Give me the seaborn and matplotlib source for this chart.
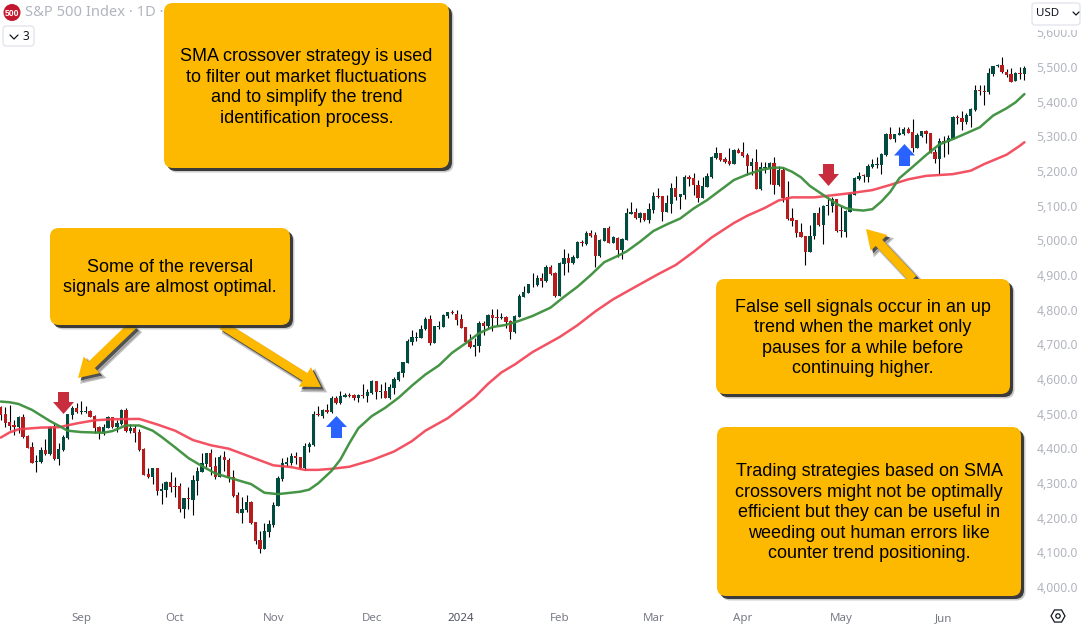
"""
S&P 500 daily candles with two SMA lines and callout boxes on top.
"""
import numpy as np
import pandas as pd
import matplotlib
matplotlib.use("Agg")
import matplotlib.pyplot as plt
import seaborn as sns
from matplotlib.patches import Circle, FancyBboxPatch, Polygon, Rectangle, RegularPolygon

# candle values
opens = [
    4520, 4499, 4477, 4467, 4461, 4490, 4436, 4404, 4362, 4361,
    4395, 4384, 4461, 4369, 4395, 4430, 4496, 4516, 4505, 4506,
    4509, 4494, 4462, 4446, 4460, 4490, 4461, 4470, 4511, 4451,
    4459, 4447, 4398, 4326, 4317, 4343, 4278, 4280, 4303, 4291,
    4291, 4225, 4256, 4251, 4306, 4332, 4355, 4387, 4349, 4318,
    4375, 4367, 4316, 4266, 4214, 4221, 4245, 4188, 4136, 4110,
    4160, 4179, 4235, 4313, 4356, 4358, 4378, 4375, 4342, 4405,
    4410, 4499, 4493, 4511, 4505, 4545, 4532, 4549, 4554, 4553,
    4545, 4554, 4552, 4560, 4594, 4564, 4565, 4544, 4575, 4598,
    4618, 4647, 4708, 4719, 4719, 4743, 4773, 4705, 4751, 4750,
    4783, 4793, 4789, 4773, 4750, 4710, 4692, 4695, 4762, 4752,
    4785, 4779, 4777, 4779, 4766, 4736, 4780, 4838, 4849, 4873,
    4871, 4891, 4883, 4923, 4907, 4840, 4933, 4949, 4934, 4950,
    4995, 4990, 5020, 5015, 4954, 4999, 5036, 4993, 5007, 4972,
    5002, 5077, 5081, 5064, 5078, 5059, 5089, 5127, 5128, 5082,
    5106, 5150, 5126, 5131, 5183, 5179, 5161, 5122, 5155, 5183,
    5238, 5252, 5235, 5228, 5220, 5260, 5255, 5246, 5214, 5225,
    5147, 5210, 5208, 5223, 5160, 5204, 5125, 5064, 5059, 5024,
    5012, 4966, 5012, 5079, 5044, 5100, 5100, 5118, 5030, 5025,
    5083, 5132, 5177, 5188, 5183, 5211, 5217, 5218, 5246, 5307,
    5291, 5304, 5306, 5321, 5312, 5266, 5301, 5315, 5309, 5255,
    5235, 5287, 5284, 5293, 5356, 5353, 5341, 5359, 5375, 5434,
    5431, 5429, 5480, 5502, 5506, 5486, 5480, 5461, 5483, 5480,
]
closes = [
    4496, 4472, 4465, 4462, 4490, 4432, 4402, 4359, 4364, 4395,
    4383, 4461, 4368, 4398, 4434, 4499, 4517, 4504, 4508, 4508,
    4490, 4460, 4447, 4462, 4491, 4461, 4474, 4512, 4449, 4459,
    4445, 4395, 4323, 4317, 4343, 4277, 4283, 4303, 4289, 4289,
    4225, 4257, 4254, 4309, 4335, 4358, 4387, 4347, 4317, 4376,
    4367, 4315, 4264, 4215, 4225, 4245, 4184, 4133, 4110, 4162,
    4182, 4237, 4314, 4357, 4361, 4378, 4373, 4342, 4407, 4413,
    4499, 4495, 4512, 4505, 4545, 4532, 4551, 4553, 4552, 4546,
    4553, 4552, 4563, 4594, 4563, 4566, 4546, 4577, 4600, 4620,
    4649, 4710, 4721, 4722, 4744, 4774, 4703, 4752, 4753, 4785,
    4792, 4790, 4770, 4748, 4707, 4692, 4698, 4762, 4753, 4785,
    4777, 4777, 4779, 4765, 4737, 4782, 4840, 4851, 4874, 4875,
    4892, 4883, 4924, 4903, 4840, 4936, 4949, 4935, 4952, 4995,
    4993, 5021, 5014, 4956, 5001, 5036, 4993, 5009, 4972, 5004,
    5079, 5082, 5065, 5079, 5060, 5090, 5128, 5124, 5083, 5107,
    5150, 5124, 5133, 5183, 5178, 5160, 5123, 5157, 5186, 5240,
    5253, 5232, 5226, 5221, 5261, 5252, 5244, 5214, 5227, 5149,
    5212, 5212, 5223, 5160, 5203, 5123, 5062, 5056, 5022, 5009,
    4966, 5014, 5079, 5043, 5100, 5102, 5118, 5026, 5027, 5086,
    5134, 5180, 5187, 5186, 5214, 5220, 5219, 5249, 5307, 5293,
    5307, 5310, 5322, 5311, 5266, 5304, 5315, 5308, 5251, 5235,
    5287, 5285, 5296, 5356, 5354, 5341, 5361, 5378, 5434, 5432,
    5429, 5483, 5503, 5505, 5486, 5477, 5458, 5483, 5481, 5497,
]
highs = [
    4523, 4520, 4525, 4482, 4493, 4499, 4439, 4419, 4381, 4405,
    4426, 4465, 4472, 4415, 4439, 4499, 4522, 4530, 4537, 4522,
    4511, 4496, 4465, 4470, 4493, 4491, 4482, 4514, 4516, 4469,
    4467, 4455, 4400, 4342, 4343, 4343, 4299, 4306, 4332, 4318,
    4299, 4257, 4290, 4323, 4347, 4386, 4388, 4397, 4376, 4381,
    4392, 4371, 4338, 4273, 4261, 4265, 4247, 4188, 4163, 4184,
    4193, 4244, 4320, 4372, 4374, 4386, 4390, 4376, 4416, 4418,
    4508, 4522, 4513, 4528, 4552, 4551, 4565, 4559, 4559, 4556,
    4557, 4586, 4570, 4597, 4594, 4586, 4590, 4586, 4605, 4623,
    4650, 4716, 4741, 4737, 4756, 4778, 4785, 4753, 4766, 4787,
    4794, 4799, 4799, 4788, 4751, 4730, 4717, 4768, 4768, 4788,
    4802, 4802, 4790, 4782, 4770, 4785, 4845, 4868, 4874, 4907,
    4900, 4905, 4929, 4929, 4909, 4939, 4975, 4963, 4958, 4998,
    5001, 5027, 5030, 5025, 5003, 5037, 5041, 5012, 5009, 5006,
    5092, 5110, 5092, 5082, 5080, 5107, 5139, 5150, 5128, 5130,
    5164, 5186, 5134, 5188, 5188, 5193, 5174, 5184, 5193, 5243,
    5270, 5253, 5241, 5265, 5263, 5267, 5283, 5251, 5237, 5263,
    5227, 5225, 5227, 5239, 5214, 5212, 5171, 5092, 5059, 5049,
    5012, 5044, 5080, 5097, 5102, 5121, 5124, 5118, 5099, 5089,
    5136, 5182, 5198, 5191, 5219, 5236, 5239, 5251, 5311, 5326,
    5307, 5326, 5326, 5326, 5349, 5309, 5315, 5318, 5309, 5264,
    5294, 5301, 5304, 5359, 5361, 5374, 5366, 5381, 5448, 5448,
    5448, 5496, 5503, 5509, 5530, 5493, 5496, 5487, 5499, 5503,
]
lows = [
    4482, 4461, 4453, 4439, 4443, 4429, 4400, 4357, 4333, 4359,
    4381, 4381, 4365, 4352, 4393, 4426, 4484, 4501, 4499, 4503,
    4490, 4443, 4427, 4439, 4458, 4459, 4447, 4468, 4447, 4445,
    4419, 4393, 4323, 4315, 4297, 4265, 4240, 4261, 4273, 4261,
    4216, 4200, 4224, 4208, 4265, 4331, 4347, 4323, 4311, 4316,
    4336, 4304, 4261, 4213, 4186, 4217, 4182, 4124, 4099, 4109,
    4143, 4172, 4234, 4307, 4349, 4352, 4355, 4340, 4338, 4390,
    4408, 4493, 4487, 4503, 4503, 4528, 4528, 4548, 4547, 4540,
    4535, 4544, 4535, 4558, 4543, 4544, 4544, 4543, 4557, 4595,
    4607, 4645, 4698, 4710, 4717, 4741, 4699, 4703, 4744, 4749,
    4777, 4788, 4756, 4746, 4705, 4690, 4665, 4679, 4727, 4746,
    4739, 4755, 4773, 4748, 4716, 4734, 4778, 4836, 4847, 4866,
    4868, 4865, 4881, 4900, 4837, 4840, 4900, 4910, 4931, 4948,
    4984, 4988, 5011, 4922, 4952, 4997, 4991, 4991, 4953, 4945,
    5001, 5076, 5063, 5054, 5057, 5051, 5080, 5123, 5057, 5081,
    5078, 5116, 5090, 5119, 5158, 5131, 5111, 5121, 5153, 5181,
    5236, 5230, 5222, 5217, 5219, 5251, 5241, 5188, 5188, 5148,
    5145, 5193, 5162, 5134, 5158, 5112, 5059, 5041, 5011, 5009,
    4930, 4965, 5003, 5042, 4989, 5074, 5083, 5023, 5011, 5011,
    5081, 5130, 5174, 5169, 5169, 5208, 5208, 5191, 5244, 5291,
    5285, 5303, 5304, 5309, 5255, 5265, 5297, 5280, 5251, 5222,
    5191, 5241, 5249, 5291, 5336, 5318, 5336, 5326, 5374, 5419,
    5390, 5421, 5474, 5499, 5482, 5472, 5456, 5460, 5464, 5462,
]

# SMA lines, read at the candle numbers listed with them
fast_days = [1, 3, 5, 8, 12, 16, 19, 24, 26, 29, 32, 35, 37, 40, 43, 46, 49, 53, 57, 60,
             63, 68, 70, 72, 75, 77, 79, 81, 84, 87, 90, 93, 96, 99, 102, 105, 108, 111,
             114, 117, 120, 124, 127, 130, 133, 136, 139, 141, 144, 147, 150, 153, 156,
             159, 162, 165, 168, 171, 174, 176, 178, 180, 182, 185, 188, 190, 192, 194,
             196, 198, 200, 202, 205, 208, 211, 214, 217, 220, 223, 226, 228, 230]
fast_sma = [4535, 4533, 4528, 4511, 4479, 4451, 4447, 4445, 4450, 4466, 4466, 4451, 4433,
            4403, 4372, 4349, 4328, 4312, 4297, 4272, 4268, 4275, 4281, 4299, 4335, 4368,
            4415, 4458, 4493, 4517, 4546, 4581, 4613, 4639, 4676, 4703, 4732, 4750, 4756,
            4768, 4782, 4806, 4837, 4866, 4900, 4937, 4955, 4968, 4996, 5027, 5046, 5063,
            5092, 5116, 5145, 5174, 5190, 5203, 5210, 5209, 5198, 5182, 5157, 5131, 5105,
            5093, 5088, 5086, 5090, 5112, 5140, 5179, 5212, 5246, 5277, 5292, 5309, 5326,
            5360, 5381, 5398, 5422]
slow_days = [1, 3, 5, 10, 14, 18, 22, 26, 32, 36, 40, 44, 48, 52, 57, 62, 66, 69, 72, 75,
             79, 84, 89, 93, 96, 101, 107, 110, 113, 116, 120, 126, 130, 134, 138, 142,
             148, 152, 156, 160, 165, 168, 172, 175, 178, 183, 187, 191, 196, 200, 204,
             208, 214, 218, 221, 226, 229, 230]
slow_sma = [4431, 4446, 4455, 4460, 4461, 4472, 4481, 4484, 4485, 4469, 4451, 4424, 4409,
            4399, 4375, 4351, 4346, 4338, 4338, 4341, 4347, 4366, 4391, 4421, 4451, 4487,
            4547, 4586, 4619, 4642, 4678, 4721, 4755, 4795, 4830, 4859, 4902, 4929, 4967,
            5008, 5050, 5071, 5094, 5115, 5124, 5124, 5130, 5136, 5145, 5160, 5176, 5186,
            5191, 5201, 5220, 5247, 5273, 5283]

price_ticks = list(range(4000, 5700, 100))
month_days = [19, 40, 62, 84, 104, 126, 147, 167, 189, 212]
month_labels = ["Sep", "Oct", "Nov", "Dec", "2024", "Feb", "Mar", "Apr", "May", "Jun"]

notes = [
    "SMA crossover strategy is used\nto filter out market fluctuations\nand to simplify the trend\nidentification process.",
    "Some of the reversal\nsignals are almost optimal.",
    "False sell signals occur in an up\ntrend when the market only\npauses for a while before\ncontinuing higher.",
    "Trading strategies based on SMA\ncrossovers might not be optimally\nefficient but they can be useful in\nweeding out human errors like\ncounter trend positioning.",
]

UP = "#004D40"
DOWN = "#B71C1C"
AMBER = "#FDB900"
GREY = "#B2B5BE"

sns.set_theme(style="white")
plt.rcParams["font.family"] = ["Liberation Sans", "DejaVu Sans"]

fig = plt.figure(figsize=(10.83, 6.25), dpi=100, facecolor="white")
ax = fig.add_axes([0, 0, 1, 1])
ax.set_xlim(0.843, 243.1)
ax.set_ylim(3890.5, 5693.3)

# candles
days = np.arange(1, len(opens) + 1)
o = np.array(opens)
c = np.array(closes)
colors = np.where(c >= o, UP, DOWN)
ax.vlines(days, lows, highs, color="black", linewidth=0.8, zorder=2)
ax.bar(days, np.abs(c - o), bottom=np.minimum(o, c), width=0.74, color=colors, linewidth=0, zorder=3)

# moving averages
fast_df = pd.DataFrame({"day": fast_days, "sma": fast_sma})
slow_df = pd.DataFrame({"day": slow_days, "sma": slow_sma})
sns.lineplot(data=slow_df, x="day", y="sma", color="#F23F52", linewidth=1.8, alpha=0.9, ax=ax, zorder=4)
sns.lineplot(data=fast_df, x="day", y="sma", color="#3C8F3C", linewidth=1.8, alpha=0.95, ax=ax, zorder=5)

# axes live inside the picture, like the trading terminal does it
ax.set_xlabel("")
ax.set_ylabel("")
for side in ax.spines.values():
    side.set_visible(False)
ax.yaxis.tick_right()
ax.set_yticks(price_ticks)
ax.set_yticklabels([f"{p:,}.0" for p in price_ticks], family="Noto Sans", fontsize=8.8, color=GREY)
ax.tick_params(axis="y", length=0, pad=-33.5)
ax.set_xticks(month_days)
ax.set_xticklabels(month_labels, family="Noto Sans", fontsize=8.3, color="#787B86")
ax.tick_params(axis="x", length=0, pad=-8.5)
for lab in ax.get_xticklabels():
    if lab.get_text() == "2024":
        lab.set_fontweight("bold")
        lab.set_color("#50535E")

# overlay in picture pixels for the notes and widgets
over = fig.add_axes([0, 0, 1, 1], facecolor="none")
over.set_xlim(0, 1083)
over.set_ylim(625, 0)
over.axis("off")


def arrow_points(start, tip, shaft, head_w, head_l):
    start = np.array(start, dtype=float)
    tip = np.array(tip, dtype=float)
    d = (tip - start) / np.linalg.norm(tip - start)
    n = np.array([-d[1], d[0]])
    neck = tip - d * head_l
    return [start + n * shaft / 2, neck + n * shaft / 2, neck + n * head_w / 2, tip,
            neck - n * head_w / 2, neck - n * shaft / 2, start - n * shaft / 2]


def amber_arrow(start, tip):
    pts = np.array(arrow_points(start, tip, 9, 23, 19))
    over.add_patch(Polygon(pts + [4, 4], color="#555555", alpha=0.35, lw=2, zorder=6))
    over.add_patch(Polygon(pts + [2.5, 2.5], color="#222222", alpha=0.7, lw=0, zorder=6))
    over.add_patch(Polygon(pts, color=AMBER, lw=0, zorder=7))


def note_box(x0, y0, x1, y1, text, baselines):
    for off, alpha, col in [(4.5, 0.3, "#555555"), (3, 0.85, "#222222")]:
        over.add_patch(FancyBboxPatch((x0 + 9 + off, y0 + 9 + off), x1 - x0 - 18, y1 - y0 - 18,
                                      boxstyle="round,pad=9,rounding_size=9",
                                      fc=col, ec="none", alpha=alpha, zorder=8))
    over.add_patch(FancyBboxPatch((x0 + 9, y0 + 9), x1 - x0 - 18, y1 - y0 - 18,
                                  boxstyle="round,pad=9,rounding_size=9",
                                  fc=AMBER, ec="none", zorder=9))
    for line, y in zip(text.split("\n"), baselines):
        over.text((x0 + x1) / 2, y, line, ha="center", va="baseline", fontsize=13,
                  color="black", zorder=10)


def block_arrow(x, tip_y, base_y, shoulder_y, color):
    # head half width 10.5 px, shaft half width 5.5 px
    over.add_patch(Polygon([(x - 5.5, base_y), (x - 5.5, shoulder_y), (x - 10.5, shoulder_y), (x, tip_y),
                            (x + 10.5, shoulder_y), (x + 5.5, shoulder_y), (x + 5.5, base_y)],
                           color=color, lw=0, zorder=6))


# header, partly hidden by the first note
over.add_patch(Circle((12, 12.5), 8.5, color="#C2172F", lw=0, zorder=5))
over.text(12, 13, "500", ha="center", va="center", fontsize=6.2, fontweight="bold", color="white", zorder=6)
over.text(25, 13, "S&P 500 Index · 1D · ", ha="left", va="center", family="Noto Sans",
          fontsize=10.6, color=GREY, zorder=5)
over.add_patch(FancyBboxPatch((6, 29), 25, 14, boxstyle="round,pad=3,rounding_size=3",
                              fc="white", ec="#E0E3EB", lw=0.9, zorder=5))
over.plot([10, 14, 18], [35, 39, 35], color="#131722", lw=0.9, zorder=6)
over.text(26, 36, "3", ha="center", va="center", family="Noto Sans", fontsize=8.5, color="#131722", zorder=6)

block_arrow(63.5, 414, 392, 402, "#C82D3E")
block_arrow(828.5, 186, 164, 174, "#C82D3E")
block_arrow(336.5, 416, 438, 427, "#2962FF")
block_arrow(904.5, 144, 166, 155.5, "#2962FF")

amber_arrow((133, 325), (78, 378))
amber_arrow((222, 325), (321, 387))
amber_arrow((913, 279), (866, 229))

note_box(164, 3, 449, 168, notes[0], [61, 82, 102.5, 123])
note_box(50, 228, 290, 325, notes[1], [272, 292])
note_box(716, 279, 1010, 394, notes[2], [312, 332, 353, 373])
note_box(717, 427, 1021, 596, notes[3], [476, 497, 517, 538, 558.5])

# currency box on top of the highest price label
over.add_patch(Rectangle((1029, 0), 54, 29.5, fc="white", ec="none", zorder=11))
over.add_patch(FancyBboxPatch((1035, 6), 42, 16, boxstyle="round,pad=3,rounding_size=3",
                              fc="white", ec="#E0E3EB", lw=0.9, zorder=12))
over.text(1036, 14, "USD", ha="left", va="center", family="Noto Sans", fontsize=8.3, color="#131722", zorder=13)
over.plot([1073, 1076, 1079], [12, 15, 12], color="#131722", lw=0.9, zorder=13)

# settings gear
over.add_patch(RegularPolygon((1058, 616), 6, radius=7, orientation=np.pi / 6,
                              fc="none", ec="#131722", lw=0.9, zorder=5))
over.add_patch(Circle((1058, 616), 2.2, fc="none", ec="#131722", lw=0.9, zorder=5))

fig.savefig("out.png", dpi=100, facecolor="white")
